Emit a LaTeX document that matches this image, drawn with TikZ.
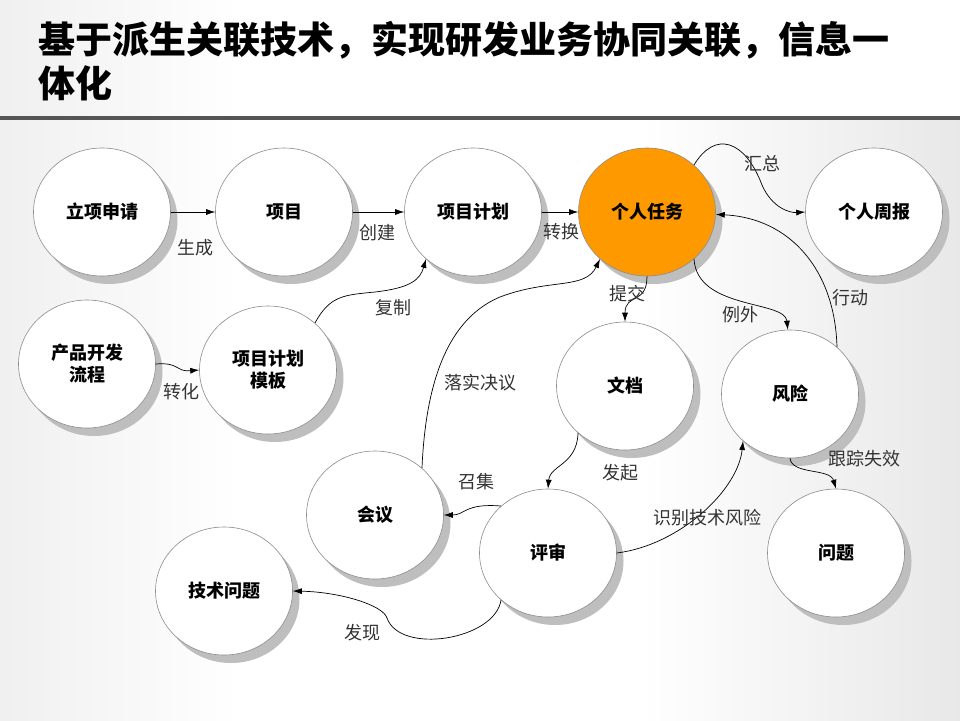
\documentclass[tikz,border=0pt]{standalone}
\usepackage{fontspec}
\setmainfont{Noto Sans CJK SC}
\usetikzlibrary{shapes.geometric,shadows,arrows.meta}
\definecolor{taskorange}{HTML}{FF9900}
\definecolor{rimgray}{HTML}{8C8C8C}
\definecolor{shadowgray}{HTML}{BEBEBE}
\definecolor{bargray}{HTML}{555555}
\definecolor{labelgray}{HTML}{333333}
\begin{document}
\begin{tikzpicture}
    [x=1pt,y=-1pt,
     bubble/.style={ellipse,draw=rimgray,line width=0.6pt,fill=white,
        minimum width=137pt,minimum height=128pt,inner sep=0pt,
        align=center,font=\fontsize{18}{22}\selectfont\bfseries,
        drop shadow={shadow xshift=7pt,shadow yshift=-8pt,fill=shadowgray,opacity=1}},
     tag/.style={font=\fontsize{18}{22}\selectfont,text=labelgray,inner sep=0pt},
     link/.style={-{Latex[length=9pt,width=6pt]},line width=0.7pt}]
    \useasboundingbox (0,0) rectangle (960,720);
    %background
    \fill[white] (0,0) rectangle (960,720);
    \shade[left color=gray!12,right color=white] (0,0) rectangle (240,720);
    \shade[left color=white,right color=gray!18] (640,120) rectangle (960,720);
    %title
    \node[anchor=west,inner sep=0pt,font=\fontsize{37}{43}\selectfont\bfseries]
        (title1) at (38,40) {基于派生关联技术，实现研发业务协同关联，信息一};
    \node[anchor=west,inner sep=0pt,font=\fontsize{37}{43}\selectfont\bfseries]
        (title2) at (38,83) {体化};
    \fill[bargray] (0,116) rectangle (960,120);
    %first row
    \node[bubble] (lx) at (102,212) {立项申请};
    \node[bubble] (xm) at (284,212) {项目};
    \node[bubble] (jh) at (473,212) {项目计划};
    \node[bubble,fill=taskorange] (rw) at (647,212) {个人任务};
    \node[bubble] (zb) at (874,212) {个人周报};
    %second row
    \node[bubble] (cp) at (87,364) {产品开发\\流程};
    \node[bubble] (mb) at (268,370) {项目计划\\模板};
    \node[bubble] (wd) at (625,386) {文档};
    \node[bubble] (fx) at (790,394) {风险};
    %third row
    \node[bubble] (hy) at (375,515) {会议};
    \node[bubble] (ps) at (548,553) {评审};
    \node[bubble] (js) at (224,591) {技术问题};
    \node[bubble] (wt) at (836,553) {问题};
    %straight arrows
    \draw[link] (lx) -- (xm);
    \draw[link] (xm) -- (jh);
    \draw[link] (jh) -- (rw);
    %curved arrows
    \draw[link] (rw.45) .. controls (715,130) and (745,140) .. (762,185)
        .. controls (772,208) and (790,213) .. (zb.west);
    \draw[link] (fx.45) .. controls (835,270) and (790,218) .. (rw.-2);
    \draw[link] (rw.south) .. controls (647,305) and (625,293) .. (wd.north);
    \draw[link] (rw.-45) .. controls (697,310) and (785,300) .. (fx.92);
    \draw[link] (mb.45) .. controls (330,295) and (345,295) .. (375,292)
        .. controls (410,288) and (420,280) .. (jh.-135);
    \draw[link] (cp.east) .. controls (180,362) and (175,372) .. (mb.west);
    \draw[link] (hy.45) .. controls (425,400) and (440,322) .. (500,297)
        .. controls (550,278) and (585,290) .. (rw.-135);
    \draw[link] (wd.-135) .. controls (577,465) and (550,465) .. (ps.north);
    \draw[link] (ps.135) .. controls (465,503) and (465,515) .. (hy.east);
    \draw[link] (ps.-135) .. controls (495,640) and (400,655) .. (387,618)
        .. controls (383,605) and (340,592) .. (js.east);
    \draw[link] (ps.east) .. controls (680,545) and (738,490) .. (fx.-135);
    \draw[link] (fx.south) .. controls (792,475) and (830,468) .. (wt.north);
    %arrow labels
    \node[tag] (sc) at (195,248) {生成};
    \node[tag] (cj) at (377,233) {创建};
    \node[tag] (zh) at (561,232) {转换};
    \node[tag] (hz) at (762,164) {汇总};
    \node[tag] (xd) at (850,298) {行动};
    \node[tag] (tj) at (627,294) {提交};
    \node[tag] (lw) at (740,315) {例外};
    \node[tag] (fz) at (393,308) {复制};
    \node[tag] (zhh) at (181,392) {转化};
    \node[tag] (lsjy) at (480,383) {落实决议};
    \node[tag] (fq) at (620,473) {发起};
    \node[tag] (zj) at (476,482) {召集};
    \node[tag] (fxn) at (362,633) {发现};
    \node[tag] (sbfx) at (707,518) {识别技术风险};
    \node[tag] (gzsx) at (864,459) {跟踪失效};
\end{tikzpicture}
\end{document}
